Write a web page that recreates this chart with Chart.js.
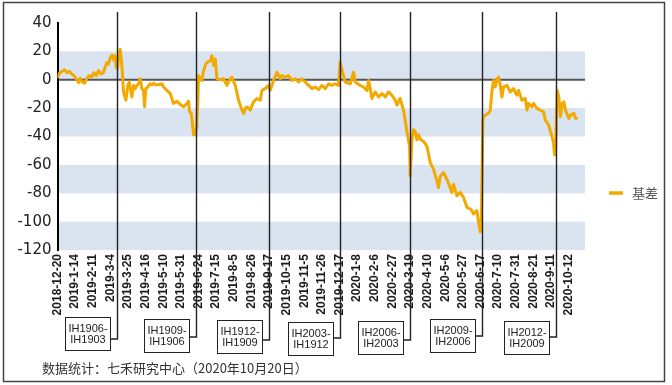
<!DOCTYPE html>
<html><head><meta charset="utf-8">
<script src="https://cdn.jsdelivr.net/npm/chart.js@4.4.1/dist/chart.umd.min.js"></script>
<style>html,body{margin:0;padding:0;background:#fff;}#wrap{width:672px;height:385px;position:relative;}</style>
</head><body><div id="wrap"><canvas id="c" width="672" height="385"></canvas></div>
<script>
// x tick labels (every 15 trading days)
const tickLabels = ['2018-12-20','2019-1-14','2019-2-11','2019-3-4','2019-3-25','2019-4-16','2019-5-10','2019-5-31','2019-6-24','2019-7-15','2019-8-5','2019-8-26','2019-9-17','2019-10-15','2019-11-5','2019-11-26','2019-12-17','2020-1-8','2020-2-6','2020-2-27','2020-3-19','2020-4-10','2020-5-6','2020-5-27','2020-6-17','2020-7-10','2020-7-31','2020-8-21','2020-9-11','2020-10-12'];
const tickStep = 15;
// trading-day index of each reading
const dayIndex = [0,2,4,6,8,10,12,14,16,18,19.5,21,23,25,27,29,31,33,35,37,39,40.6,42,43.4,45,46.3,47.7,49,50,51,52,53.3,54.8,56.2,58.2,59.9,61,62,63.3,64.7,66.1,67.6,69,70.4,71.8,73.2,74.1,75.2,76.9,78.9,80.3,82,83.2,86,88.9,90.3,93.1,96,98.8,101.6,104.5,107.3,110.2,111.5,112.4,113.8,115,115.8,117.2,118.1,118.7,119.5,120,121.5,122.9,124,125.7,127.2,130,131.4,132.8,134.3,135.7,138.5,141.3,144.2,147,148.4,151.3,154.1,157,158.4,160,161.2,164,166.9,169.7,172.6,174,176.8,179.6,181.1,183.9,186.8,189.6,191,193.8,196.6,199.5,202.3,205.2,208,210.8,213.7,216.6,219.3,222.2,225.1,227.9,230.7,233.6,236.4,239.2,240.6,242.1,244.9,249.2,252,253.4,257.7,260.5,263.4,264.8,266.2,267.6,270.4,273.2,276.2,279,281.8,284.7,287.5,289,291.6,293,294.5,295.9,297.4,299.7,300.2,301.7,303,304.5,305.9,307.3,308.7,311.6,314.5,317.3,320.1,323,324.3,325.8,328.6,331.5,334.3,335.7,337.1,340,342.8,345.6,348.5,351.3,352.7,354.1,357,358.4,359.8,360.7,362.1,362.6,364.1,366.9,368.4,369.8,371.2,372.6,374.1,375.4,376.9,378.3,379.7,382.6,385.4,388.2,391.1,392.5,395.3,398.2,399.6,401,403.8,405.2,408.1,410.9,413.7,415.2,418,420.9,422.2,423.1,423.9,425.3,426.7,428.1,429.6,431,432.4,435.2,436.7,439.5,440.9,441.8];
// basis values
const basis = [2,5,6,7,5,6,4,3,0.5,-2,1,-1.5,-2.5,1,3,2,5,3,6.5,4,5,9,12,11,16,17.4,14,17,9,8,15,21.5,10,-8.6,-14.4,-4,-1.6,-6,-12.1,-4,-6.3,-4,-2.8,0.7,-6.3,-7.5,-19,-6.3,-5.1,-2.8,-3.5,-2.5,-3.5,-3.5,-2.8,-5.1,-7.5,-9.8,-16.7,-15.1,-17.4,-19.1,-16.7,-15.1,-22.6,-23.7,-31.8,-38.8,-38.8,-34,-27,-15,3,1,-0.5,5,10,12.3,13.4,16.9,10,14.6,0.7,0,0.7,-4,0.7,1.8,-4,-14.4,-21.4,-23.7,-20,-19.1,-21.4,-15.6,-13.2,-14.4,-7.5,-6.3,-4,-7.5,-0.5,5.3,0.7,3,1.8,3,-0.5,0.7,-1.6,0.7,-1.6,-4,-6.3,-5.1,-7,-4,-6.3,-2.8,-4,-2.8,-4,12.3,7,-1.6,-2.8,5.3,-1.6,-4,-5.1,-7.5,-0.5,-6.3,-13.2,-8.6,-12.1,-9.8,-12.1,-8.6,-10.9,-14.4,-17.9,-13.2,-17,-21.4,-28.4,-36.5,-47,-67.9,-42.3,-35.3,-36.5,-42.3,-38.8,-42,-43.5,-47,-58.5,-63.2,-71.4,-76,-67.9,-65.5,-70.2,-76,-79.4,-73.7,-81.8,-79.4,-82.9,-89.9,-91.1,-92.3,-94.6,-92.3,-100.3,-107.3,-102.7,-28.4,-26,-24.9,-23.7,-21.4,-7.5,-0.5,-5.1,0.7,1.8,-4,-12.1,-5.1,-4,-8.6,-6.3,-10.9,-7.5,-14.4,-13.2,-21.4,-16.7,-19.1,-16.7,-20.2,-21.4,-22.6,-28.4,-31.8,-40,-44.6,-52.8,-52.8,-7.5,-12.1,-26,-16.7,-15.6,-21.4,-27.2,-24.9,-23.7,-27.2,-27.2];
// contract roll-over markers
const rollDay = [50.8,118,180.2,240.6,300.2,361.5,424.5];
const rollLabels = [['IH1906-','IH1903'],['IH1909-','IH1906'],['IH1912-','IH1909'],['IH2003-','IH1912'],['IH2006-','IH2003'],['IH2009-','IH2006'],['IH2012-','IH2009']];
const seriesName = '基差';
const yTicks = {min:-120, max:40, step:20};
const footnote = '数据统计：七禾研究中心（2020年10月20日）';

const ORANGE = '#F2A900';
const BAND = '#DAE4F0';
const boxTop = [317,319,320,322,321,319,321];
const connY = [339,337,340,338,340,336,337];

const decor = {
  id:'decor',
  beforeDraw(chart){
    const {ctx, chartArea:a, scales:{y}} = chart;
    ctx.save();
    ctx.fillStyle = '#fff'; ctx.fillRect(0,0,chart.width,chart.height);
    ctx.fillStyle = BAND;
    for (let v = yTicks.min; v < yTicks.max; v += 2*yTicks.step) {
      const y1 = y.getPixelForValue(v), y2 = y.getPixelForValue(v+yTicks.step);
      ctx.fillRect(a.left, y2, a.right-a.left, y1-y2);
    }
    ctx.strokeStyle = '#555'; ctx.lineWidth = 2;
    const y0 = y.getPixelForValue(0);
    ctx.beginPath(); ctx.moveTo(a.left, y0); ctx.lineTo(a.right, y0); ctx.stroke();
    ctx.restore();
  },
  afterDraw(chart){
    const {ctx, scales:{x}} = chart;
    ctx.save();
    rollDay.forEach((d,i)=>{
      const px = Math.round(x.getPixelForValue(d))+0.5;
      const cy = connY[i];
      ctx.strokeStyle = '#222'; ctx.lineWidth = 1.4;
      ctx.beginPath(); ctx.moveTo(px, 12); ctx.lineTo(px, cy); ctx.lineTo(px-8, cy); ctx.stroke();
      const bw = 45, bh = 33, bx = Math.round(px-8-bw)+0.5, by = boxTop[i]+0.5;
      ctx.fillStyle = '#fff'; ctx.fillRect(bx,by,bw,bh);
      ctx.lineWidth = 1; ctx.strokeStyle = '#222'; ctx.strokeRect(bx,by,bw,bh);
      ctx.fillStyle = '#222'; ctx.font = '11px "Liberation Sans", Arial, sans-serif';
      ctx.textAlign = 'center'; ctx.textBaseline = 'middle';
      ctx.fillText(rollLabels[i][0], bx+bw/2, by+11);
      ctx.fillText(rollLabels[i][1], bx+bw/2, by+22);
    });
    // footnote
    ctx.fillStyle = '#333'; ctx.font = '13px "Noto Sans CJK SC", sans-serif';
    ctx.textAlign = 'left'; ctx.textBaseline = 'middle';
    ctx.fillText(footnote, 42, 368);
    // legend
    const ds = chart.data.datasets[0];
    ctx.strokeStyle = ds.borderColor; ctx.lineWidth = 3.5;
    ctx.beginPath(); ctx.moveTo(609,193); ctx.lineTo(623,193); ctx.stroke();
    ctx.fillStyle = '#555'; ctx.font = '13px "Noto Sans CJK SC", sans-serif';
    ctx.fillText(ds.label, 632, 193);
    // outer frame
    ctx.strokeStyle = '#444'; ctx.lineWidth = 1.5;
    ctx.strokeRect(3.5, 2.5, 661, 379);
    ctx.restore();
  }
};

new Chart(document.getElementById('c'), {
  type:'line',
  data:{ datasets:[{
    label: seriesName,
    data: dayIndex.map((d,i)=>({x:d, y:basis[i]})),
    borderColor: ORANGE, borderWidth: 3, pointRadius: 0, tension: 0,
    borderJoinStyle:'round', borderCapStyle:'round'
  }]},
  options:{
    responsive:false, animation:false, devicePixelRatio:1,
    layout:{padding:{left:0, top:23, right:87, bottom:0}},
    plugins:{legend:{display:false}, tooltip:{enabled:false}},
    scales:{
      x:{
        type:'linear', min:0, max:449,
        grid:{display:false, drawTicks:false},
        border:{display:false},
        afterBuildTicks(s){ s.ticks = tickLabels.map((t,i)=>({value:i*tickStep})); },
        afterFit(s){ s.height = 135; },
        ticks:{
          autoSkip:false, maxRotation:90, minRotation:90, padding:4,
          color:'#1a1a1a', font:{family:'"Liberation Sans", Arial, sans-serif', size:12, weight:'bold'},
          callback:(v,i)=>tickLabels[i]
        }
      },
      y:{
        min:yTicks.min, max:yTicks.max,
        grid:{display:false, drawTicks:false},
        border:{display:true, color:'#000', width:2},
        afterFit(s){ s.width = 57.5; },
        ticks:{
          stepSize:yTicks.step, padding:6,
          color:'#222', font:{family:'"DejaVu Sans", sans-serif', size:15}
        }
      }
    }
  },
  plugins:[decor]
});
</script></body></html>
